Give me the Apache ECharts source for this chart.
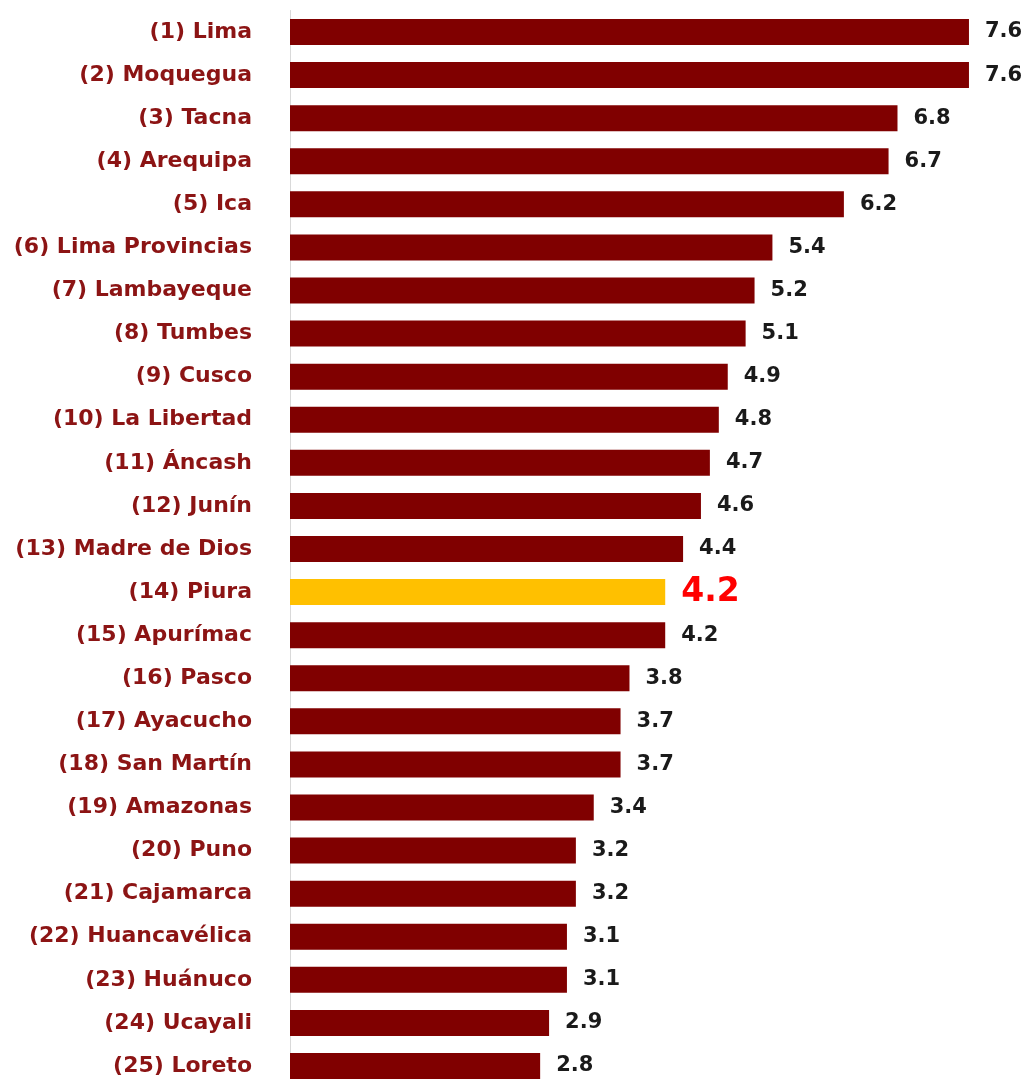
<!DOCTYPE html>
<html><head><meta charset="utf-8">
<script src="https://cdn.jsdelivr.net/npm/echarts@6/dist/echarts.min.js"></script>
<style>html,body{margin:0;padding:0;background:#fff;overflow:hidden}#c{width:1029px;height:1090px}</style>
</head><body><div id="c"></div>
<script>
const regions = ["(1) Lima","(2) Moquegua","(3) Tacna","(4) Arequipa","(5) Ica","(6) Lima Provincias","(7) Lambayeque","(8) Tumbes","(9) Cusco","(10) La Libertad","(11) Áncash","(12) Junín","(13) Madre de Dios","(14) Piura","(15) Apurímac","(16) Pasco","(17) Ayacucho","(18) San Martín","(19) Amazonas","(20) Puno","(21) Cajamarca","(22) Huancavélica","(23) Huánuco","(24) Ucayali","(25) Loreto"];
const values = [7.6,7.6,6.8,6.7,6.2,5.4,5.2,5.1,4.9,4.8,4.7,4.6,4.4,4.2,4.2,3.8,3.7,3.7,3.4,3.2,3.2,3.1,3.1,2.9,2.8];
const highlight = "(14) Piura";

const FONT = "DejaVu Sans";
const data = values.map((v, i) => {
  const hi = regions[i] === highlight;
  return hi ? {
    value: v,
    itemStyle: {color: '#FFC000'},
    label: {color: '#FF0000', fontSize: 33, distance: 16}
  } : {value: v};
});

const chart = echarts.init(document.getElementById('c'), null, {renderer: 'canvas'});
chart.setOption({
  animation: false,
  grid: {left: 290, top: 10.5, width: 714.7, height: 1077},
  xAxis: {type: 'value', min: 0, max: 8, show: false},
  yAxis: {
    type: 'category', data: regions, inverse: true,
    axisLine: {show: true, lineStyle: {color: '#D9D9D9', width: 1}},
    axisTick: {show: false},
    axisLabel: {color: '#8C1414', fontFamily: FONT, fontWeight: 'bold', fontSize: 22, margin: 38}
  },
  series: [{
    type: 'bar', data: data, barWidth: 26,
    itemStyle: {color: '#800000'},
    label: {show: true, position: 'right', distance: 16, color: '#1A1A1A',
            fontFamily: FONT, fontWeight: 'bold', fontSize: 21,
            formatter: p => p.value.toFixed(1)}
  }]
});
</script></body></html>
